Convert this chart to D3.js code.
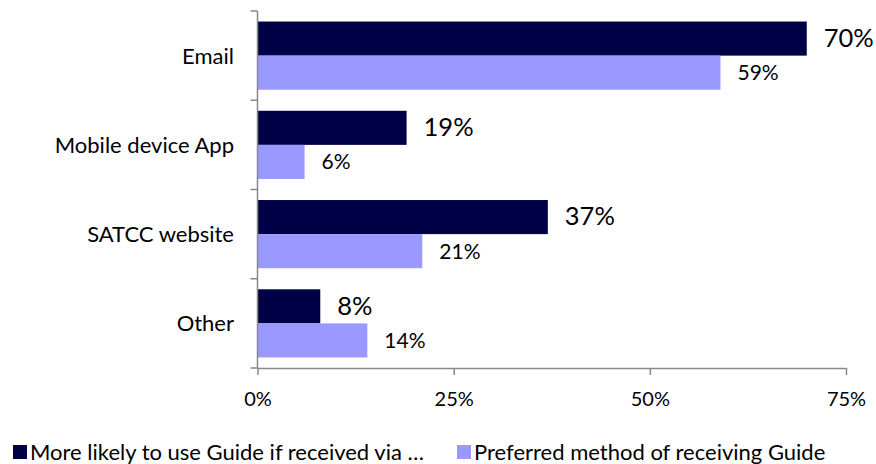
<!DOCTYPE html>
<html><head><meta charset="utf-8">
<script src="https://cdn.jsdelivr.net/npm/d3@7"></script>
<style>body{margin:0;background:#fff}svg{display:block}text{font-family:Lato,sans-serif;fill:#000}</style>
</head><body><svg id="c" width="876" height="464"></svg>
<script>
const categories = ["Email", "Mobile device App", "SATCC website", "Other"];
const seriesNames = ["More likely to use Guide if received via …", "Preferred method of receiving Guide"];
const moreLikely = [70, 19, 37, 8];
const preferred = [59, 6, 21, 14];
const tickValues = [0, 25, 50, 75];
const colors = ["#000046", "#9999FF"];

(function(){
const svg = d3.select("#c");
const pL = 257.5, pR = 846, pT = 11, pB = 368;
const x = d3.scaleLinear().domain([0, 75]).range([pL, pR]);
const y = d3.scaleBand().domain(categories).range([pT, pB]).paddingInner(0.236).paddingOuter(0.118);
const sub = d3.scaleBand().domain([0,1]).range([0, y.bandwidth()]);
const series = [moreLikely, preferred];

series.forEach((vals, s) => {
  svg.append("g").selectAll("rect").data(vals).join("rect")
    .attr("x", x(0)).attr("y", (d,i) => y(categories[i]) + sub(s))
    .attr("width", d => x(d) - x(0)).attr("height", sub.bandwidth())
    .attr("fill", colors[s]);
  svg.append("g").selectAll("text").data(vals).join("text")
    .attr("x", d => x(d) + 17)
    .attr("y", (d,i) => y(categories[i]) + sub(s) + sub.bandwidth()/2)
    .attr("dy", s === 0 ? "0.33em" : "0.36em")
    .style("font-size", s === 0 ? "25.5px" : "21px")
    .text(d => d + "%");
});

const ax = svg.append("g").attr("transform", `translate(0,${pB})`)
  .call(d3.axisBottom(x).tickValues(tickValues).tickFormat(d => d + "%").tickSize(7).tickSizeOuter(0));
ax.select(".domain").attr("stroke", "#888").attr("stroke-width", 1.5);
ax.selectAll(".tick line").attr("stroke", "#888").attr("stroke-width", 1.5);
ax.selectAll(".tick text").attr("dy", "1.4em").style("font-size", "20px").style("font-family", "Lato,sans-serif").attr("fill", "#000");

const yBound = d3.scaleLinear().domain([0, categories.length]).range([pT, pB]);
const ay = svg.append("g");
ay.append("line").attr("x1", pL).attr("x2", pL).attr("y1", pT).attr("y2", pB).attr("stroke", "#888").attr("stroke-width", 1.5);
ay.selectAll("line.t").data(d3.range(categories.length + 1)).join("line").attr("class","t")
  .attr("x1", pL - 7).attr("x2", pL).attr("y1", d => yBound(d)).attr("y2", d => yBound(d))
  .attr("stroke", "#888").attr("stroke-width", 1.5);
ay.selectAll("text").data(categories).join("text")
  .attr("x", 234).attr("y", d => y(d) + y.bandwidth()/2).attr("dy", "0.36em")
  .attr("text-anchor", "end").style("font-size", "22px").text(d => d);

const lg = svg.append("g");
const lx = [13, 457];
seriesNames.forEach((n, i) => {
  lg.append("rect").attr("x", lx[i]).attr("y", 445).attr("width", 14).attr("height", 14).attr("fill", colors[i]);
  lg.append("text").attr("x", lx[i] + 17).attr("y", 452).attr("dy", "0.36em").style("font-size", "22px").text(n);
});
})();
</script></body></html>
